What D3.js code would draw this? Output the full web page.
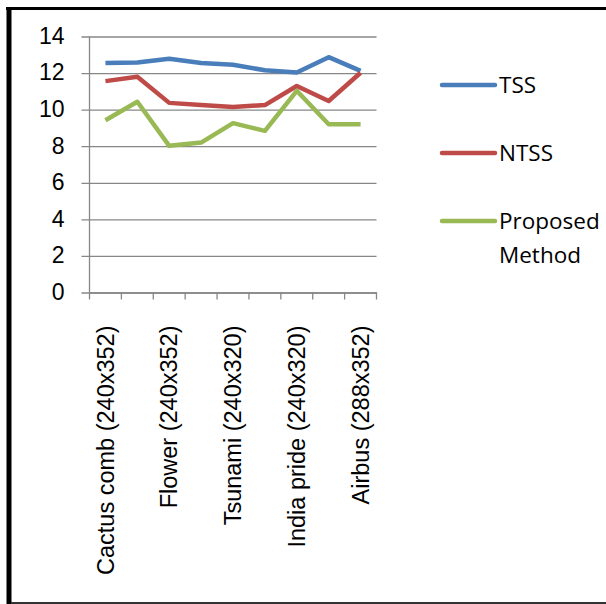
<!DOCTYPE html>
<html>
<head>
<meta charset="utf-8">
<script src="https://cdn.jsdelivr.net/npm/d3@7"></script>
<style>
  body { margin: 0; background: #fff; }
  svg { display: block; font-family: "Open Sans", sans-serif; }
</style>
</head>
<body>
<svg id="chart" width="606" height="604"></svg>
<script>
'use strict';

// categories (only every other label is printed on the axis, the rest are not readable)
var categories = ['Cactus comb (240x352)', '', 'Flower (240x352)', '', 'Tsunami (240x320)', '', 'India pride (240x320)', '', 'Airbus (288x352)'];
var yTicks = [0, 2, 4, 6, 8, 10, 12, 14];

var tss      = [12.55, 12.58, 12.78, 12.55, 12.46, 12.15, 12.03, 12.87, 12.12];
var ntss     = [11.56, 11.80, 10.37, 10.26, 10.15, 10.25, 11.29, 10.47, 12.02];
var proposed = [9.42, 10.43, 8.02, 8.20, 9.26, 8.84, 11.03, 9.20, 9.20];

var seriesNames  = ['TSS', 'NTSS', 'Proposed Method'];
var seriesColors = ['#4a7ebb', '#be4b48', '#98b954'];
var seriesData   = [tss, ntss, proposed];

var svg = d3.select('#chart');

// frame
svg.append('line').attr('x1', 6).attr('x2', 606).attr('y1', 8.5).attr('y2', 8.5)
  .attr('stroke', '#000').attr('stroke-width', 3);
svg.append('line').attr('x1', 9).attr('x2', 9).attr('y1', 7).attr('y2', 604)
  .attr('stroke', '#000').attr('stroke-width', 5);
svg.append('line').attr('x1', 11).attr('x2', 606).attr('y1', 603).attr('y2', 603)
  .attr('stroke', '#333').attr('stroke-width', 2);

var plotL = 89.5, plotR = 376.5, plotT = 36.5, plotB = 292.5;

var x = d3.scaleBand().domain(d3.range(categories.length)).range([plotL, plotR]);
var y = d3.scaleLinear().domain([0, 14]).range([plotB, plotT]);

// gridlines + y axis
var yAxis = d3.axisLeft(y).tickValues(yTicks).tickSize(plotR - plotL + 8).tickPadding(17).tickFormat(d3.format('d'));
var gy = svg.append('g').attr('transform', 'translate(' + plotR + ',0)').call(yAxis);
gy.select('.domain').remove();
gy.selectAll('.tick line').attr('stroke', '#878787').attr('stroke-width', 1.3);
gy.selectAll('.tick text').attr('font-size', 23).attr('fill', '#000').attr('dy', '0.3em');

svg.append('line').attr('x1', plotL).attr('x2', plotL).attr('y1', plotT).attr('y2', plotB)
  .attr('stroke', '#878787').attr('stroke-width', 1.3);

// x axis with ticks between categories
var xAxis = d3.axisBottom(x).tickSize(0).tickFormat(function(i) { return categories[i]; });
var gx = svg.append('g').attr('transform', 'translate(0,' + plotB + ')').call(xAxis);
gx.select('.domain').attr('stroke', '#878787').attr('stroke-width', 1.3);
gx.selectAll('.tick text')
  .attr('font-size', 23.5).attr('fill', '#000')
  .attr('transform', 'rotate(-90)')
  .attr('text-anchor', 'end')
  .attr('x', -33).attr('y', 0).attr('dy', '0.35em');
var bounds = d3.range(categories.length + 1).map(function(i) { return plotL + i * x.step(); });
svg.append('g').selectAll('line').data(bounds).join('line')
  .attr('x1', function(d) { return d; }).attr('x2', function(d) { return d; })
  .attr('y1', plotB).attr('y2', plotB + 7)
  .attr('stroke', '#878787').attr('stroke-width', 1.3);

// series lines
var line = d3.line()
  .x(function(d, i) { return x(i) + x.bandwidth() / 2; })
  .y(function(d) { return y(d); });

seriesData.forEach(function(s, k) {
  svg.append('path').datum(s)
    .attr('d', line)
    .attr('fill', 'none')
    .attr('stroke', seriesColors[k])
    .attr('stroke-width', 4.5)
    .attr('stroke-linejoin', 'round');
});

// legend
var legendY = [85, 153, 221];
seriesNames.forEach(function(name, k) {
  var g = svg.append('g').attr('transform', 'translate(0,' + legendY[k] + ')');
  g.append('line').attr('x1', 442).attr('x2', 495).attr('y1', 0).attr('y2', 0)
    .attr('stroke', seriesColors[k]).attr('stroke-width', 4.5).attr('stroke-linecap', 'round');
  var words = name === 'Proposed Method' ? ['Proposed', 'Method'] : [name];
  var t = g.append('text').attr('x', 499).attr('y', 8).attr('font-size', 22.5).attr('fill', '#000');
  words.forEach(function(w, j) {
    t.append('tspan').attr('x', 499).attr('dy', j === 0 ? 0 : 34).text(w);
  });
});
</script>
</body>
</html>
